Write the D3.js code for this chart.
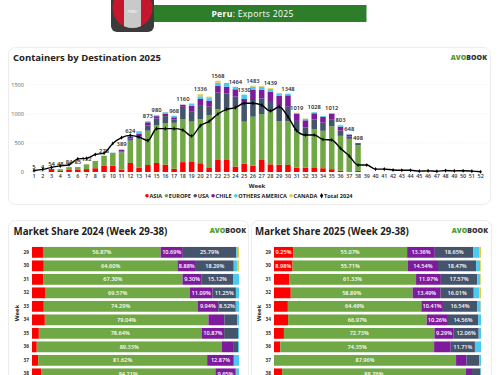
<!DOCTYPE html>
<html>
<head>
<meta charset="utf-8">
<script src="https://cdn.jsdelivr.net/npm/d3@7"></script>
<style>
    html, body { margin: 0; padding: 0; background: #fff; overflow: hidden; }
    svg { display: block; font-family: 'Open Sans', sans-serif; }
</style>
</head>
<body>
<svg id="chart" width="500" height="375"></svg>
<script>
// Containers per week 2025, one list per destination
var weeks = d3.range(1, 53);
var asia = [3,2,50,20,45,35,50,65,105,110,40,155,75,120,155,125,55,170,172,150,80,206,206,95,140,110,206,132,126,121,74,75,69,65,49,24,0,19];
var europe = [2,2,2,25,37,50,80,125,170,215,300,385,500,590,650,715,790,740,693,755,900,871,859,1015,725,840,790,922,749,751,625,542,663,643,736,597,570,442];
var usa = [0,0,2,3,2,0,2,0,3,5,15,35,30,90,115,120,60,210,170,245,142,286,285,185,315,287,269,166,254,249,179,147,170,140,122,94,40,21];
var chile = [0,0,0,0,0,0,0,0,0,0,25,35,55,55,40,45,35,35,105,105,103,114,115,125,75,173,145,160,182,196,122,124,107,98,94,64,32,15];
var others = [0,0,0,0,0,0,0,0,0,0,9,14,40,15,15,22,25,3,28,45,45,58,65,44,75,56,56,45,38,26,15,26,17,14,11,24,6,1];
var canada = [0,0,0,0,0,0,0,0,0,0,0,0,0,3,5,3,3,2,12,36,25,33,0,0,0,17,14,14,11,5,4,6,2,0,0,0,0,0];
var total2024 = [25,45,80,105,125,225,235,300,325,490,590,630,600,540,745,745,745,720,618,796,870,996,1077,1105,1180,1180,1150,1048,1122,950,710,636,636,560,550,406,275,120,120,50,50,35,30,30,15,20,12,25,20,22,15,5];
var totalLabels = [5,4,54,48,84,85,132,null,278,null,389,624,null,873,980,null,968,1160,null,1336,null,1568,null,1464,1330,1483,null,1439,null,1348,1019,null,1028,null,1012,803,648,498];

var destinations = ['ASIA', 'EUROPE', 'USA', 'CHILE', 'OTHERS AMERICA', 'CANADA'];
var destinationColors = ['#ff0000', '#70a845', '#44546a', '#7e1a9c', '#4dc8f0', '#ecc93a'];

// Market share, week 29-38
var shareWeeks = [29,30,31,32,33,34,35,36,37,38];
var shareNames = ['ASIA', 'EUROPE', 'CHILE', 'USA', 'OTHERS AMERICA', 'CANADA'];
var shareColors = ['#ff0000', '#70a845', '#7e1a9c', '#44546a', '#4dc8f0', '#ecc93a'];
var share2024 = [
    [5.30,56.87,10.69,25.79,0.80,0.55],
    [5.70,64.60,8.88,18.29,1.70,0.83],
    [5.40,67.30,9.30,15.12,2.88,0],
    [6.60,69.57,11.09,11.25,1.49,0],
    [5.70,74.29,9.94,8.52,1.55,0],
    [6.20,79.04,7.70,6.30,0.76,0],
    [3.30,78.64,10.87,6.70,0.49,0],
    [2.30,89.33,5.50,2.40,0.47,0],
    [3.00,81.62,12.87,0,2.51,0],
    [4.40,84.21,9.65,0.50,1.24,0]
];
var share2025 = [
    [9.25,55.07,13.36,18.65,3.00,0.67],
    [8.98,55.71,14.54,18.47,1.90,0.40],
    [7.30,61.33,11.97,17.57,1.50,0.33],
    [8.10,58.89,13.49,16.01,2.70,0.81],
    [6.70,64.49,10.41,16.54,1.70,0.16],
    [6.80,66.97,10.26,14.56,1.41,0],
    [4.80,72.73,9.29,12.06,1.12,0],
    [3.00,74.35,8.00,11.71,2.94,0],
    [0,87.96,5.00,6.20,0.84,0],
    [3.90,88.76,3.00,4.10,0.24,0]
];

var svg = d3.select('#chart');

drawBanner();
drawCard(8, 47, 482, 157);
drawCard(8, 220, 240, 170);
drawCard(251, 220, 240, 170);
drawLogo(487, 60);
drawLogo(246, 233);
drawLogo(488, 233);
drawWeekly();
drawShare(share2024, 'Market Share 2024 (Week 29-38)', 13.5, 32);
drawShare(share2025, 'Market Share 2025 (Week 29-38)', 255, 274);

function drawCard(x, y, w, h) {
    svg.append('rect')
        .attr('x', x + 0.5).attr('y', y + 0.5)
        .attr('width', w).attr('height', h)
        .attr('rx', 7)
        .attr('fill', '#fff')
        .attr('stroke', '#ececec');
}

function drawLogo(right, y) {
    var logo = svg.append('text')
        .attr('x', right).attr('y', y)
        .attr('text-anchor', 'end')
        .attr('font-size', 7)
        .attr('font-weight', 800);
    logo.append('tspan').attr('fill', '#4f9a2d').text('AVO');
    logo.append('tspan').attr('fill', '#333').text('BOOK');
}

function drawBanner() {
    svg.append('rect')
        .attr('x', 153).attr('y', 5)
        .attr('width', 213.5).attr('height', 17)
        .attr('fill', '#2e7d2a');

    svg.append('text')
        .attr('x', 252.5).attr('y', 17)
        .attr('text-anchor', 'middle')
        .attr('fill', '#fff')
        .attr('font-size', 8.6)
        .attr('letter-spacing', 0.3)
        .html('<tspan font-weight="700">Peru</tspan>: Exports 2025');

    // Flag badge
    svg.append('rect')
        .attr('x', 111).attr('y', -12)
        .attr('width', 43).attr('height', 44)
        .attr('rx', 6)
        .attr('fill', '#3b3b3b');

    svg.append('clipPath').attr('id', 'flag-clip')
        .append('circle')
        .attr('cx', 132.5).attr('cy', 8)
        .attr('r', 20);

    var flag = svg.append('g').attr('clip-path', 'url(#flag-clip)');
    flag.append('rect').attr('x', 112).attr('y', -12).attr('width', 41).attr('height', 40).attr('fill', '#c4172c');
    flag.append('rect').attr('x', 124).attr('y', -12).attr('width', 17).attr('height', 40).attr('fill', '#c9c9c9');

    svg.append('text')
        .attr('x', 132.5).attr('y', 13)
        .attr('text-anchor', 'middle')
        .attr('fill', '#fff')
        .attr('font-size', 4)
        .text('PERU');
}

function drawWeekly() {
    var series = [asia, europe, usa, chile, others, canada];
    var rows = asia.map(function(d, i) {
        var row = { week: weeks[i] };
        destinations.forEach(function(name, k) { row[name] = series[k][i]; });
        return row;
    });

    var x = d3.scaleBand()
        .domain(weeks)
        .range([29.6, 485])
        .paddingInner(0.37)
        .paddingOuter(0.185);

    var y = d3.scaleLinear()
        .domain([0, 1500])
        .range([172, 84.7]);

    svg.append('text')
        .attr('x', 13).attr('y', 60.5)
        .attr('font-size', 9.5)
        .attr('font-weight', 700)
        .attr('fill', '#222')
        .text('Containers by Destination 2025');

    var yAxis = d3.axisLeft(y)
        .tickValues([0, 500, 1000, 1500])
        .tickFormat(d3.format('d'))
        .tickSize(0)
        .tickPadding(0);

    var yGroup = svg.append('g')
        .attr('transform', 'translate(24,0)')
        .call(yAxis);
    yGroup.select('.domain').remove();
    yGroup.selectAll('text')
        .attr('font-family', "'Open Sans', sans-serif")
        .attr('font-size', 5.6)
        .attr('fill', '#666');

    svg.selectAll('.grid')
        .data([500, 1000, 1500])
        .enter()
        .append('line')
        .attr('class', 'grid')
        .attr('x1', 28).attr('x2', 487)
        .attr('y1', function(d) { return y(d); })
        .attr('y2', function(d) { return y(d); })
        .attr('stroke', '#e3e3e3')
        .attr('stroke-width', 0.6)
        .attr('stroke-dasharray', '1,1.5');

    var stacked = d3.stack().keys(destinations)(rows);

    svg.append('g').selectAll('g')
        .data(stacked)
        .enter()
        .append('g')
        .attr('fill', function(d, i) { return destinationColors[i]; })
        .selectAll('rect')
        .data(function(d) { return d; })
        .enter()
        .append('rect')
        .attr('x', function(d) { return x(d.data.week); })
        .attr('width', x.bandwidth())
        .attr('y', function(d) { return y(d[1]); })
        .attr('height', function(d) { return y(d[0]) - y(d[1]); });

    var xAxis = d3.axisBottom(x).tickSize(0).tickPadding(2.5);
    var xGroup = svg.append('g')
        .attr('transform', 'translate(0,172)')
        .call(xAxis);
    xGroup.select('.domain').remove();
    xGroup.selectAll('text')
        .attr('font-family', "'Open Sans', sans-serif")
        .attr('font-size', 5.4)
        .attr('font-weight', 600)
        .attr('fill', '#333');

    svg.append('text')
        .attr('x', 257).attr('y', 188)
        .attr('text-anchor', 'middle')
        .attr('font-size', 6)
        .attr('font-weight', 700)
        .attr('fill', '#222')
        .text('Week');

    var line = d3.line()
        .x(function(d, i) { return x(weeks[i]) + x.bandwidth() / 2; })
        .y(function(d) { return y(d); })
        .curve(d3.curveMonotoneX);

    svg.append('path')
        .attr('d', line(total2024))
        .attr('fill', 'none')
        .attr('stroke', '#000')
        .attr('stroke-width', 1.4);

    svg.append('g').selectAll('path')
        .data(total2024)
        .enter()
        .append('path')
        .attr('d', d3.symbol().type(d3.symbolDiamond).size(5))
        .attr('transform', function(d, i) {
            return 'translate(' + (x(weeks[i]) + x.bandwidth() / 2) + ',' + y(d) + ')';
        })
        .attr('fill', '#000');

    svg.append('g').selectAll('text')
        .data(totalLabels)
        .enter()
        .append('text')
        .attr('x', function(d, i) { return x(weeks[i]) + x.bandwidth() / 2; })
        .attr('y', function(d, i) { return y(d) - 3; })
        .attr('text-anchor', 'middle')
        .attr('font-size', 5.8)
        .attr('font-weight', 600)
        .attr('fill', '#222')
        .text(function(d) { return d; });

    // Legend, laid out from the measured text
    var legend = svg.append('g').attr('transform', 'translate(0,197.5)');
    var names = destinations.concat(['Total 2024']);
    var cursor = 145;
    names.forEach(function(name, i) {
        var item = legend.append('g').attr('transform', 'translate(' + cursor + ',0)');
        if (i < destinations.length) {
            item.append('circle').attr('cx', 2).attr('cy', -1.8).attr('r', 1.8).attr('fill', destinationColors[i]);
        } else {
            item.append('path')
                .attr('d', d3.symbol().type(d3.symbolDiamond).size(9))
                .attr('transform', 'translate(2,-1.8)')
                .attr('fill', '#000');
        }
        var label = item.append('text')
            .attr('x', 4.5)
            .attr('font-size', 5.6)
            .attr('font-weight', 700)
            .attr('fill', '#222')
            .text(name);
        cursor += 4.5 + label.node().getComputedTextLength() + 2.2;
    });
}

function drawShare(values, title, titleX, barX) {
    svg.append('text')
        .attr('x', titleX).attr('y', 234.5)
        .attr('font-size', 9.7)
        .attr('font-weight', 700)
        .attr('fill', '#222')
        .text(title);

    var x = d3.scaleLinear().domain([0, 100]).range([barX, barX + 207]);

    var y = d3.scaleBand()
        .domain(shareWeeks)
        .range([245.6, 380.6])
        .paddingInner(0.2)
        .paddingOuter(0.1);

    var yAxis = d3.axisLeft(y).tickSize(0).tickPadding(3);
    var yGroup = svg.append('g')
        .attr('transform', 'translate(' + barX + ',0)')
        .call(yAxis);
    yGroup.select('.domain').remove();
    yGroup.selectAll('text')
        .attr('font-family', "'Open Sans', sans-serif")
        .attr('font-size', 4.8)
        .attr('font-weight', 700)
        .attr('fill', '#333');

    svg.append('text')
        .attr('transform', 'translate(' + (barX - 13) + ',313) rotate(-90)')
        .attr('text-anchor', 'middle')
        .attr('font-size', 6)
        .attr('font-weight', 700)
        .attr('fill', '#222')
        .text('Week');

    var rows = values.map(function(row, i) {
        var item = { week: shareWeeks[i] };
        shareNames.forEach(function(name, k) { item[name] = row[k]; });
        return item;
    });

    var stacked = d3.stack().keys(shareNames)(rows);

    var layers = svg.append('g').selectAll('g')
        .data(stacked)
        .enter()
        .append('g');

    layers.selectAll('rect')
        .data(function(d) { return d; })
        .enter()
        .append('rect')
        .attr('x', function(d) { return x(d[0]); })
        .attr('width', function(d) { return x(d[1]) - x(d[0]); })
        .attr('y', function(d) { return y(d.data.week); })
        .attr('height', y.bandwidth())
        .attr('fill', function() { return shareColors[shareNames.indexOf(d3.select(this.parentNode).datum().key)]; });

    // Only the wider segments carry a label
    layers.selectAll('text')
        .data(function(d) { return d.filter(function(s) { return s[1] - s[0] > 8.5; }); })
        .enter()
        .append('text')
        .attr('x', function(d) { return (x(d[0]) + x(d[1])) / 2; })
        .attr('y', function(d) { return y(d.data.week) + y.bandwidth() / 2 + 2; })
        .attr('text-anchor', 'middle')
        .attr('font-size', 5.6)
        .attr('font-weight', 600)
        .attr('fill', '#fff')
        .text(function(d) { return (d[1] - d[0]).toFixed(2) + '%'; });
}
</script>
</body>
</html>
